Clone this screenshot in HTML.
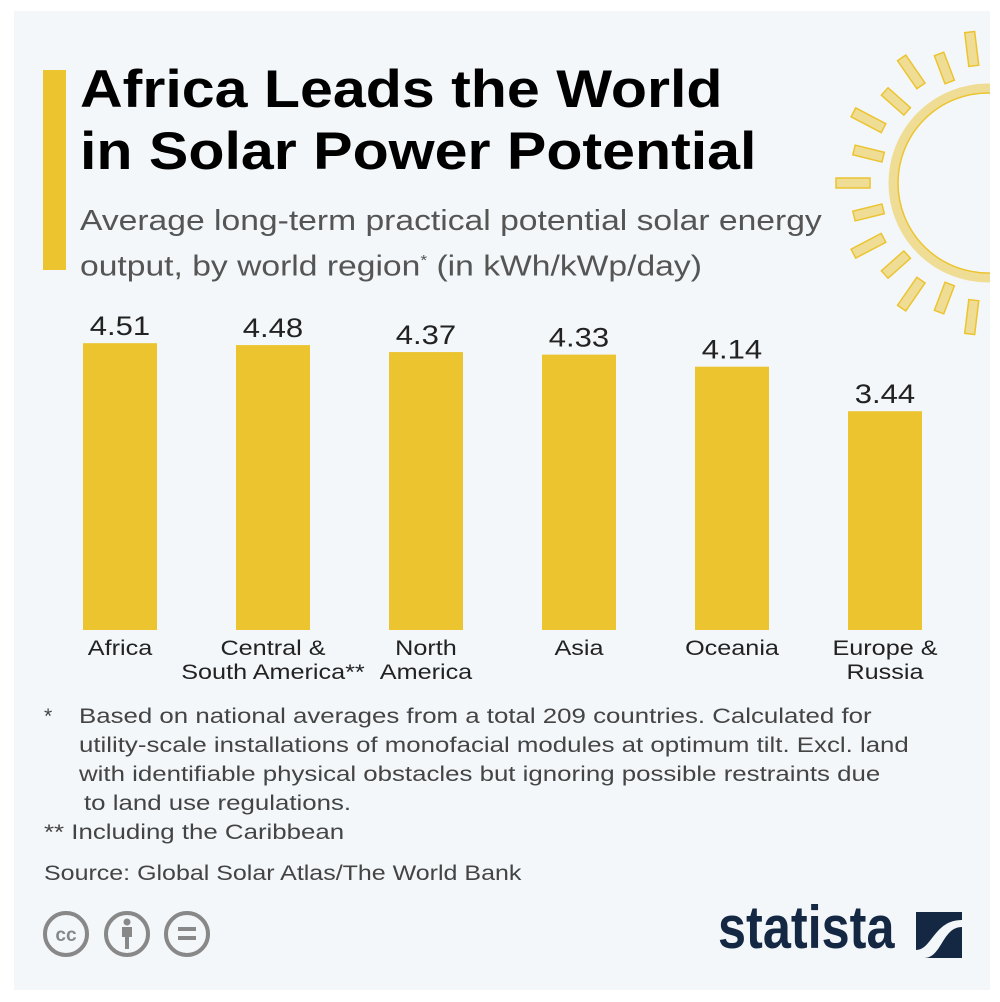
<!DOCTYPE html>
<html><head><meta charset="utf-8"><style>
body{margin:0;background:#fff;width:1000px;height:1002px;position:relative;overflow:hidden;font-family:"Liberation Sans",sans-serif}
#panel{position:absolute;left:14px;top:11px;width:976px;height:979px;background:#f3f7fa;overflow:hidden}
.t{position:absolute;white-space:nowrap;transform-origin:0 0}
.fn{position:absolute;white-space:nowrap;transform-origin:0 0;transform:scaleX(1.23);font-size:21px;color:#444}
</style></head><body>
<div id="panel">
<svg width="976" height="979" style="position:absolute;left:0;top:0">
<g id="sun"></g>
<rect x="29" y="59" width="23" height="200" fill="#ebc430"/>
<g id="bars"></g>
</svg>
<div class="t" style="left:66px;top:48px;font-size:53px;font-weight:bold;line-height:62px;color:#000;transform:scaleX(1.115)">Africa Leads the World<br>in Solar Power Potential</div>
<div class="t" style="left:66px;top:190px;font-size:29px;line-height:40px;color:#555;transform:scaleX(1.16)">Average long-term practical potential solar energy<br>output, by world region<sup style="font-size:15px">*</sup> (in kWh/kWp/day)</div>
<div class="fn" style="left:30px;top:694px;transform:none">*</div>
<div class="fn" style="left:65px;top:694px">Based on national averages from a total 209 countries. Calculated for</div>
<div class="fn" style="left:65px;top:723px">utility-scale installations of monofacial modules at optimum tilt. Excl. land</div>
<div class="fn" style="left:65px;top:752px">with identifiable physical obstacles but ignoring possible restraints due</div>
<div class="fn" style="left:70px;top:781px">to land use regulations.</div>
<div class="fn" style="left:30px;top:810px">** Including the Caribbean</div>
<div class="fn" style="left:30px;top:851px;transform:scaleX(1.19)">Source: Global Solar Atlas/The World Bank</div>
<svg width="180" height="60" style="position:absolute;left:28px;top:897px">
<g fill="none" stroke="#888" stroke-width="4"><circle cx="24" cy="26" r="21"/><circle cx="85" cy="26" r="21"/><circle cx="145" cy="26" r="21"/></g>
<text x="24" y="33" font-size="19" font-weight="bold" fill="#888" text-anchor="middle">cc</text>
<circle cx="85" cy="14" r="3.5" fill="#888"/><rect x="80" y="19" width="10" height="10" fill="#888"/><rect x="83" y="27" width="4" height="14" fill="#888"/>
<rect x="136" y="19" width="18" height="4" fill="#888"/><rect x="136" y="28" width="18" height="4" fill="#888"/>
</svg>
<div class="t" style="left:704px;top:882px;font-size:60px;font-weight:bold;color:#142743;transform:scaleX(0.84)">statista</div>
<svg width="50" height="50" style="position:absolute;left:902px;top:901px">
<rect x="0" y="0" width="46" height="46" fill="#142743"/><path d="M0,38 C16,38 18,8 46,8 L46,15 C26,15 26,46 8,46 L0,46Z" fill="#f3f7fa"/>
</svg>
</div>
<script>
const categories=["Africa","Central &\nSouth America**","North\nAmerica","Asia","Oceania","Europe &\nRussia"];
const values=[4.51,4.48,4.37,4.33,4.14,3.44];
const valueLabels=["4.51","4.48","4.37","4.33","4.14","3.44"];
const NS="http://www.w3.org/2000/svg";
const baseY=619, scale=63.6, x0=106, step=153, bw=74;
const y=v=>baseY-v*scale;
const g=document.getElementById('bars');
const panel=document.getElementById('panel');
values.forEach((v,i)=>{
  const cx=x0+i*step;
  const r=document.createElementNS(NS,'rect');
  r.setAttribute('x',cx-bw/2);r.setAttribute('y',y(v));r.setAttribute('width',bw);r.setAttribute('height',baseY-y(v));r.setAttribute('fill','#ebc430');
  
  
  g.appendChild(r);
  const t=document.createElementNS(NS,'text');
  t.setAttribute('x',cx);t.setAttribute('y',y(v)-8);t.setAttribute('text-anchor','middle');t.setAttribute('font-size','27');t.setAttribute('fill','#222');
  t.setAttribute('transform','translate('+cx+',0) scale(1.15,1) translate('+(-cx)+',0)');
  t.textContent=valueLabels[i];
  
  
  g.appendChild(t);
  const d=document.createElement('div');
  d.className='t';d.style.cssText='left:'+(cx-100)+'px;width:200px;text-align:center;top:626px;font-size:21px;line-height:24px;color:#222;white-space:pre;transform-origin:50% 0;transform:scaleX(1.2)';
  d.textContent=categories[i];
  
  
  panel.appendChild(d);
});
// sun
const sun=document.getElementById('sun');
const scx=974, scy=172;
let c=document.createElementNS(NS,'circle');
c.setAttribute('cx',scx);c.setAttribute('cy',scy);c.setAttribute('r',95);c.setAttribute('fill','none');c.setAttribute('stroke','#f0dd95');c.setAttribute('stroke-width','9');
sun.appendChild(c);
c=document.createElementNS(NS,'circle');
c.setAttribute('cx',scx);c.setAttribute('cy',scy);c.setAttribute('r',90);c.setAttribute('fill','none');c.setAttribute('stroke','#ebc430');c.setAttribute('stroke-width','1.5');
sun.appendChild(c);
for(let k=-6;k<=6;k++){
  const a=Math.PI+k*Math.PI/13;
  const rin=k%2?108:118, len=k%2?30:34;
  const mx=scx+Math.cos(a)*(rin+len/2), my=scy+Math.sin(a)*(rin+len/2);
  const r=document.createElementNS(NS,'rect');
  r.setAttribute('x',-len/2);r.setAttribute('y',-5);r.setAttribute('width',len);r.setAttribute('height',10);
  r.setAttribute('fill','#f0dd95');r.setAttribute('stroke','#ebc430');r.setAttribute('stroke-width','1.5');
  r.setAttribute('transform','translate('+mx+','+my+') rotate('+(a*180/Math.PI)+')');
  sun.appendChild(r);
}
</script>
</body></html>
